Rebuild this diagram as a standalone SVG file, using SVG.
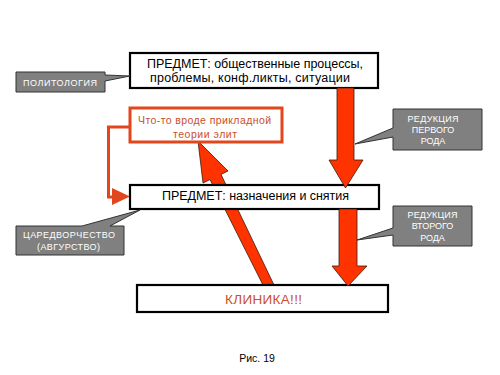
<svg xmlns="http://www.w3.org/2000/svg" width="500" height="375" viewBox="0 0 500 375">
<defs>
<style>
.box{fill:#fff;stroke:#000;stroke-width:2.2}
.rbox{fill:#fff;stroke:#E2461C;stroke-width:3}
.call{fill:#808080;stroke:#333;stroke-width:1}
.arr{fill:#FF3300;stroke:#3a1a10;stroke-width:0.8}
.t{font-family:"Liberation Sans",Arial,sans-serif;fill:#000;text-anchor:middle}
.tw{font-family:"Liberation Sans",Arial,sans-serif;fill:#fff;text-anchor:middle;font-size:9px}
.tr{font-family:"Liberation Sans",Arial,sans-serif;fill:#C8502A;text-anchor:middle}
.elbow{fill:none;stroke:#E2461C;stroke-width:3}
</style>
</defs>
<rect width="500" height="375" fill="#fff"/>

<g id="connectors">
  <polygon id="arrow-clinic-to-theory" class="arr" points="198,141 228,171 221,174.4 274,285 263,285 210,179.6 203,183"/>
  <g id="elbow-theory-to-subject2">
    <polyline class="elbow" points="129,127 108.5,127 108.5,197 114,197"/>
    <polygon points="112,188 130,196.5 112,205" fill="#E2461C"/>
  </g>
</g>

<g id="node-subject1">
  <rect class="box" x="130" y="53" width="248" height="35"/>
  <text class="t" x="255" y="68" font-size="12.5" textLength="216" lengthAdjust="spacing">ПРЕДМЕТ: общественные процессы,</text>
  <text class="t" x="250" y="82" font-size="12.5" textLength="200" lengthAdjust="spacing">проблемы, конф.ликты, ситуации</text>
</g>

<g id="node-theory">
  <rect class="rbox" x="130" y="108" width="152" height="34"/>
  <text class="tr" x="204.5" y="124" font-size="10.5" textLength="133" lengthAdjust="spacing">Что-то вроде прикладной</text>
  <text class="tr" x="205" y="137.5" font-size="10.5" textLength="64" lengthAdjust="spacing">теории элит</text>
</g>

<g id="node-subject2">
  <rect class="box" x="130" y="185" width="249" height="24"/>
  <text class="t" x="255.5" y="200" font-size="12.5" textLength="187" lengthAdjust="spacing">ПРЕДМЕТ: назначения и снятия</text>
</g>

<g id="node-clinic">
  <rect class="box" x="137" y="285" width="251" height="27"/>
  <text class="tr" x="263.5" y="303.5" font-size="13.5" textLength="77" lengthAdjust="spacing">КЛИНИКА!!!</text>
</g>

<g id="connectors-vertical">
  <polygon id="arrow-reduction1" class="arr" points="337,88 354,88 354,160 363,160 345.5,188 329,160 337,160"/>
  <polygon id="arrow-reduction2" class="arr" points="339,209 357,209 357,266 367,266 348,286 332,266 339,266"/>
</g>

<g id="node-politology">
  <path class="call" d="M16,72 H105 V75 L130,76 L105,81 V92 H16 Z"/>
  <text class="tw" x="60" y="86" textLength="74" lengthAdjust="spacing">ПОЛИТОЛОГИЯ</text>
</g>

<g id="node-courtier">
  <path class="call" d="M16,226 H82 L140,210 L110,226 H124 V255 H16 Z"/>
  <text class="tw" x="69" y="237.5" textLength="92" lengthAdjust="spacing">ЦАРЕДВОРЧЕСТВО</text>
  <text class="tw" x="68.5" y="249.5" textLength="63" lengthAdjust="spacing">(АВГУРСТВО)</text>
</g>

<g id="node-reduction1">
  <path class="call" d="M393,109 H482 V150 H393 V137 L355,144 L393,128 Z"/>
  <text class="tw" x="433" y="122" textLength="51" lengthAdjust="spacing">РЕДУКЦИЯ</text>
  <text class="tw" x="433" y="133">ПЕРВОГО</text>
  <text class="tw" x="433" y="144">РОДА</text>
</g>

<g id="node-reduction2">
  <path class="call" d="M393,206 H472 V246 H393 V235 L357,240 L393,228 Z"/>
  <text class="tw" x="432.5" y="217.5" textLength="50" lengthAdjust="spacing">РЕДУКЦИЯ</text>
  <text class="tw" x="432.5" y="229">ВТОРОГО</text>
  <text class="tw" x="432.5" y="240.5">РОДА</text>
</g>

<text class="t" x="257" y="362" font-size="10.5">Рис. 19</text>
</svg>
